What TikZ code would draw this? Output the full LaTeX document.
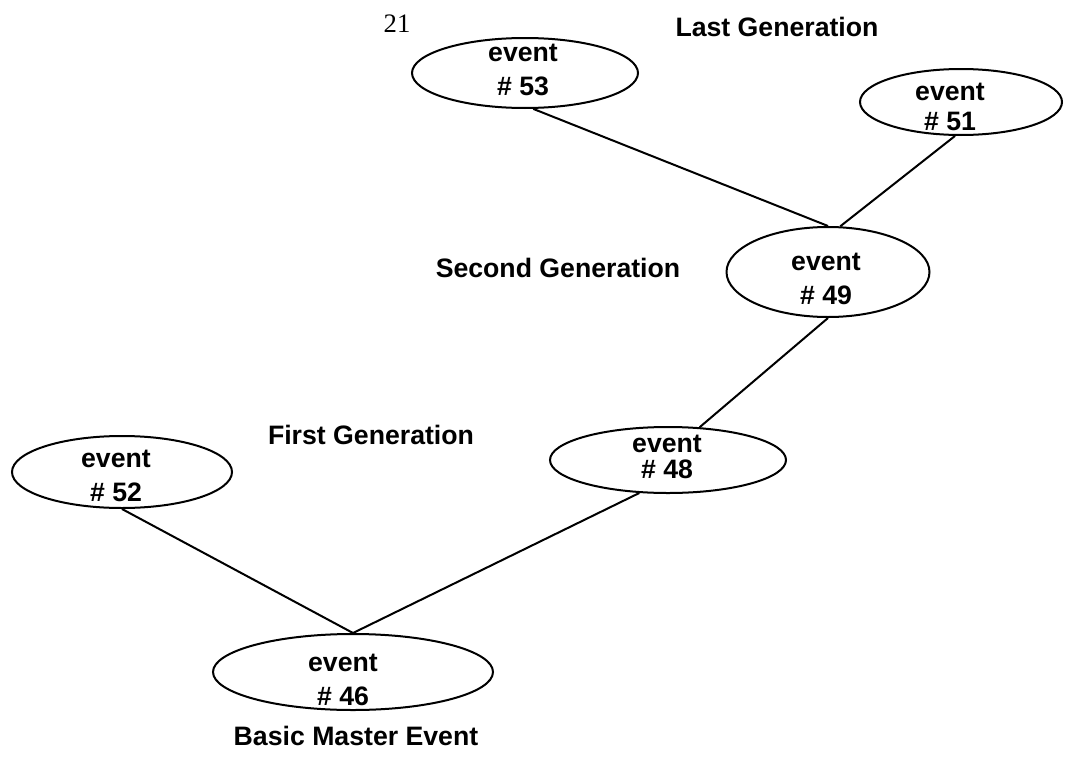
\documentclass[tikz,border=0pt]{standalone}
\usepackage{fontspec}
\setmainfont{Liberation Sans}
\newfontfamily\pagenumfont{Liberation Serif}
\usetikzlibrary{shapes.geometric}

\tikzset{every picture/.style={line width=0.75pt}}
\tikzset{
  evshape/.style={draw, ellipse, line width=1.5pt, inner sep=0pt},
  evtext/.style={inner sep=0pt, align=center, font=\bfseries\fontsize{20}{#1}\selectfont},
  evtext/.default=26pt,
  gentext/.style={inner sep=0pt, font=\bfseries\fontsize{20}{24}\selectfont},
  link/.style={line width=1.5pt},
}

\begin{document}
\begin{tikzpicture}[x=0.75pt,y=0.75pt,yscale=-1,xscale=1]
\useasboundingbox (0,0) rectangle (1067,771);

%Shape: Ellipse
\node [evshape, minimum width=169.5pt, minimum height=52.5pt] (e53) at (525,73) {};
%Shape: Ellipse
\node [evshape, minimum width=151.5pt, minimum height=49.5pt] (e51) at (961,102) {};
%Shape: Ellipse
\node [evshape, minimum width=152.25pt, minimum height=67.5pt] (e49) at (828,272) {};
%Shape: Ellipse
\node [evshape, minimum width=177pt, minimum height=49.5pt] (e48) at (668,460) {};
%Shape: Ellipse
\node [evshape, minimum width=165pt, minimum height=54pt] (e52) at (122,472) {};
%Shape: Ellipse
\node [evshape, minimum width=210pt, minimum height=57pt] (e46) at (353,672) {};

%Straight Lines
\draw [link] (e53.-77) -- (e49.north) ;
%Straight Lines
\draw [link] (e51.-100) -- (e49.75) ;
%Straight Lines
\draw [link] (e49.south) -- (e48.46) ;
%Straight Lines
\draw [link] (e48.-131) -- (e46.north) ;
%Straight Lines
\draw [link] (e52.south) -- (e46.north) ;

% Text Node
\node [evtext] (t53) at (523,70) {event\\\# 53};
% Text Node
\node [evtext=22.5pt] (t51) at (950,107) {event\\\# 51};
% Text Node
\node [evtext=25pt] (t49) at (826,279) {event\\\# 49};
% Text Node
\node [evtext=19.5pt] (t48) at (667,457) {event\\\# 48};
% Text Node
\node [evtext] (t52) at (116,476) {event\\\# 52};
% Text Node
\node [evtext] (t46) at (343,680) {event\\\# 46};

% Text Node
\node [inner sep=0pt, font=\pagenumfont\fontsize{20}{24}\selectfont] (pgnum) at (397,24) {21};
% Text Node
\node [gentext] (lastgen) at (777,27) {Last Generation};
% Text Node
\node [gentext] (secondgen) at (558,268) {Second Generation};
% Text Node
\node [gentext] (firstgen) at (371,435) {First Generation};
% Text Node
\node [gentext] (basic) at (356,736) {Basic Master Event};

\end{tikzpicture}
\end{document}
